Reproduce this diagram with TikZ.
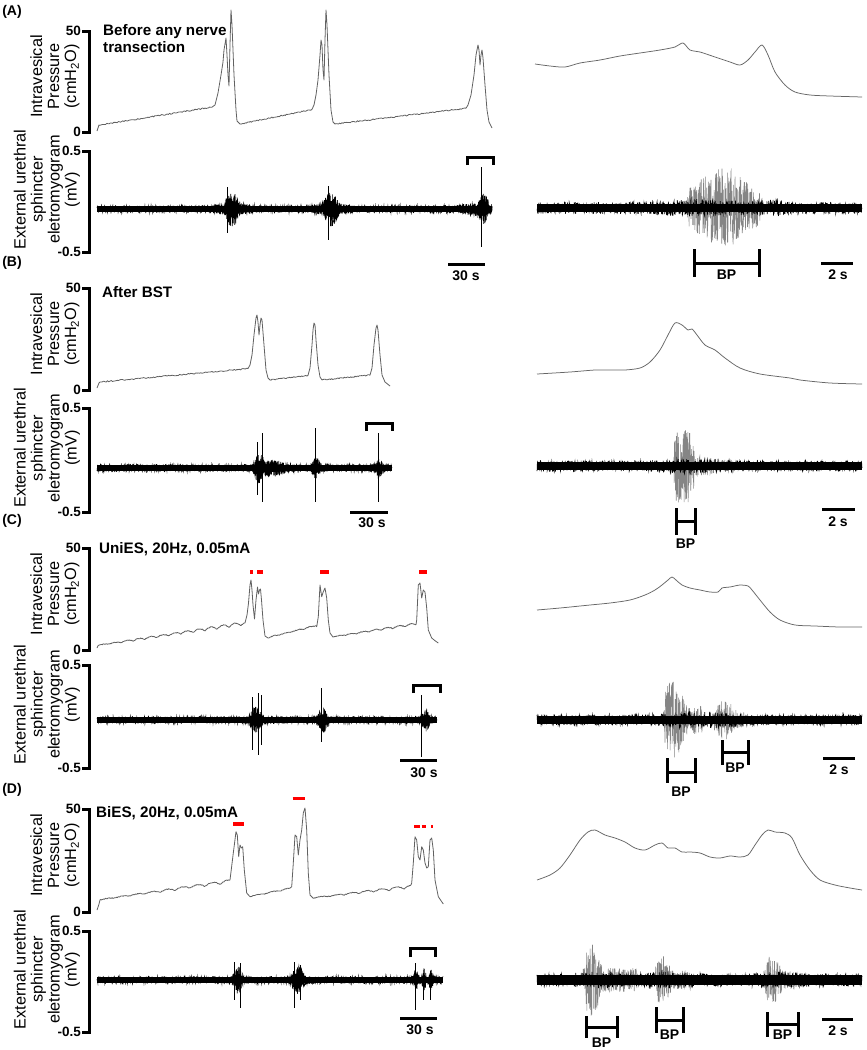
\documentclass[tikz,border=0pt]{standalone}
\usepackage{fontspec}
\setmainfont{Liberation Sans}
\tikzset{
  axisln/.style={line width=3pt, line join=miter},
  ticklbl/.style={anchor=east, font=\fontsize{13.5}{15}\selectfont\bfseries, inner sep=0pt},
  ylbl/.style={rotate=90, align=center, font=\fontsize{16.3}{17}\selectfont, inner sep=0pt},
  panel/.style={font=\fontsize{14}{16}\selectfont\bfseries, inner sep=0pt},
  cond/.style={anchor=west, align=left, font=\fontsize{15.2}{17}\selectfont\bfseries, inner sep=0pt},
  sclbl/.style={font=\fontsize{14}{16}\selectfont\bfseries, inner sep=0pt},
  ptrace/.style={draw=black!62, line width=0.8pt, line join=round},
  rtrace/.style={draw=black!60, line width=0.75pt, line join=round},
  emgln/.style={draw=black, line width=0.6pt},
  burstln/.style={draw=black!48, line width=0.55pt},
  spk/.style={draw=black, line width=0.9pt},
  redmk/.style={draw=red, line width=3.5pt},
  barln/.style={line width=3pt, line join=miter}
}
\newcommand\axset[6]{%
  \draw[axisln] ({#2-7},#3) -- (#2,#3) -- (#2,#4) -- ({#2-7},#4);
  \draw[axisln] ({#2-7},#5) -- (#2,#5) -- (#2,#6) -- ({#2-7},#6);
  \node[ticklbl] (#1pt) at ({#2-8},#3) {50};
  \node[ticklbl] (#1pb) at ({#2-8},#4) {0};
  \node[ticklbl] (#1et) at ({#2-8},#5) {0.5};
  \node[ticklbl] (#1eb) at ({#2-8},#6) {-0.5};
  \node[ylbl] (#1pl) at (55,{(#3+#4)/2-5}) {Intravesical\\Pressure\\(cmH\textsubscript{2}O)};
  \node[ylbl] (#1el) at (47,{(#5+#6)/2-12}) {External urethral\\sphincter\\eletromyogram\\(mV)};
}
% top bracket: name, x1, x2, ytop, yend
\newcommand\topbr[5]{%
  \draw[barln] (#2,#5) -- (#2,#4) -- (#3,#4) -- (#3,#5);
  \coordinate (#1) at ({(#2+#3)/2},#4);
}
% BP bracket: name, x1, x2, vtop, vbot, yh, text y
\newcommand\bpbr[7]{%
  \draw[barln] (#2,#4) -- (#2,#5) (#2,#6) -- (#3,#6) (#3,#4) -- (#3,#5);
  \node[sclbl] (#1) at ({(#2+#3)/2},#7) {BP};
}
% scale bar: name, x1, x2, y, text, text x, text y
\newcommand\scbar[7]{%
  \draw[barln] (#2,#4) -- (#3,#4);
  \node[sclbl] (#1) at (#6,#7) {#5};
}
% EMG trace: x0, x1, baseline, core half width, envelope function, line samples
\newcommand\emgtrace[6]{%
  \fill[black] (#1,{#3-#4}) rectangle (#2,{#3+#4});
  \draw[emgln] plot[domain=#1:#2,samples=#6] (\x,{#3+#5(\x)*rand});
}
% dense burst noise with dark core: x0, x1, baseline, envelope, samples
\newcommand\emgb[5]{%
  \fill[black] plot[domain=#1:#2,samples=60] (\x,{#3-0.45*#4(\x)}) -- plot[domain=#2:#1,samples=60] (\x,{#3+0.45*#4(\x)}) -- cycle;
  \draw[emgln] plot[domain=#1:#2,samples=#5] (\x,{#3+#4(\x)*rand});
}
\begin{document}
\begin{tikzpicture}[x=1pt,y=-1pt,
  declare function={
    bmp(\t,\c,\w)=(1-min(abs((\t-\c)/\w),1)^2)^2;
    trap(\t,\p,\q,\s)=min(1,max(0,(\t-\p)/\s))*min(1,max(0,(\q-\t)/\s));
    eAL(\t)=3.8+2*bmp(\t,232,30)+12*bmp(\t,232,10)+2*bmp(\t,330,30)+12*bmp(\t,331,10)+3*bmp(\t,478,22)+9*bmp(\t,484,7);
    eAR(\t)=6+3*bmp(\t,700,70)+3*bmp(\t,775,30);
    eBL(\t)=3.8+10*bmp(\t,259,7)+5*bmp(\t,272,20)+7*bmp(\t,316,6)+5*bmp(\t,379,6);
    eBR(\t)=5.5+2*bmp(\t,690,50);
    eCL(\t)=3.8+10*bmp(\t,256,9)+9*bmp(\t,323,7)+8*bmp(\t,426,6);
    eCR(\t)=5.5+3*bmp(\t,700,60);
    eDL(\t)=3.8+10*bmp(\t,238,7)+11*bmp(\t,298,9)+8*bmp(\t,416,4)+8*bmp(\t,424,3)+7*bmp(\t,431,3);
    eDR(\t)=6.5+2*bmp(\t,600,40)+2*bmp(\t,668,30)+2*bmp(\t,780,30);
  }]
\fill[white] (0,0) rectangle (867,1050);
\useasboundingbox (0,0) rectangle (867,1050);
\pgfmathsetseed{4242}

% ================= Panel A =================
\node[panel] (lA) at (12,12) {(A)};
\axset{A}{89}{31}{132}{151}{252}
\node[cond] (cA) at (103,38.5) {Before any nerve\\transection};
\draw[ptrace] (97,131) -- (99,125)
  -- plot[domain=100:213,samples=100] (\x,{125-(\x-100)*0.16+0.6*rand})
  -- plot coordinates {(215,105) (218,93) (221,75) (223,62) (224,50) (226,38) (227,55) (228,75) (229,86) (230,45) (231,10) (232,25) (234,75) (236,110) (237,121) (240,124)}
  -- plot[domain=241:312,samples=70] (\x,{124-(\x-240)*0.2+0.6*rand})
  -- plot coordinates {(314,105) (316,95) (318,80) (320,55) (321,40) (322,45) (323,70) (324,80) (325,40) (326,10) (327,25) (329,75) (331,110) (333,122) (335,124)}
  -- plot[domain=336:466,samples=110] (\x,{124-(\x-335)*0.12+0.6*rand})
  -- plot coordinates {(468,105) (471,95) (474,75) (476,55) (478,45) (479,50) (480,65) (481,55) (482,50) (483,58) (485,85) (487,110) (489,122) (492,128)};
\draw[rtrace] plot[smooth,tension=0.5] coordinates {(535,64) (550,66) (565,67) (580,63) (600,60) (620,56) (640,53) (660,50) (675,47) (683,43) (690,50) (700,52) (715,57) (730,62) (740,65) (748,60) (755,52) (762,45) (768,55) (775,72) (785,85) (795,92) (810,95) (830,96) (862,97)};
% EMG A
\emgtrace{97}{492}{209}{2.6}{eAL}{900}
\emgb{212}{255}{209}{eAL}{260}
\emgb{312}{352}{209}{eAL}{240}
\emgb{458}{492}{209}{eAL}{200}
\draw[spk] (227,187) -- (227,233) (328,186) -- (328,240) (481,167) -- (481,247);
\topbr{brA}{467}{493}{157}{165}
\scbar{sA}{448}{485}{264}{30 s}{466}{276}
\draw[burstln] plot[domain=686:762,samples=320] (\x,{208+(20*trap(\x,686,762,3)+20*bmp(\x,722,36))*rand});
\emgtrace{537}{862}{208}{4.4}{eAR}{900}
\bpbr{bpA}{694}{759}{249}{277}{263}{275}
\scbar{rsA}{821}{853}{263}{2 s}{838}{275}

% ================= Panel B =================
\node[panel] (lB) at (12,263) {(B)};
\axset{B}{89}{288}{390}{408}{512}
\node[cond] (cB) at (102,292) {After BST};
\draw[ptrace] (97,388) -- (99,383)
  -- plot[domain=100:248,samples=120] (\x,{382-(\x-100)*0.09+0.6*rand})
  -- plot coordinates {(250,365) (252,355) (254,335) (256,318) (257,315) (258,322) (259,335) (260,325) (261,318) (262,320) (264,345) (266,370) (268,378) (270,380)}
  -- plot[domain=271:308,samples=35] (\x,{380-(\x-270)*0.12+0.6*rand})
  -- plot coordinates {(310,368) (312,345) (313,330) (314,323) (315,325) (316,340) (318,365) (320,377) (322,380)}
  -- plot[domain=323:370,samples=45] (\x,{380-(\x-322)*0.1+0.6*rand})
  -- plot coordinates {(372,368) (374,345) (376,328) (377,325) (378,330) (380,355) (382,375) (385,382) (390,386)};
\draw[rtrace] plot[smooth,tension=0.5] coordinates {(537,374) (570,372) (595,370) (610,370) (625,370) (640,368) (650,362) (660,350) (668,335) (675,323) (682,325) (688,330) (692,329) (697,335) (705,345) (715,350) (725,358) (740,368) (760,374) (790,378) (800,380) (830,383) (862,384)};
% EMG B
\emgtrace{97}{392}{468}{2.6}{eBL}{680}
\emgb{248}{295}{468}{eBL}{280}
\emgb{306}{326}{468}{eBL}{120}
\emgb{370}{388}{468}{eBL}{100}
\draw[spk] (257,442) -- (257,495) (262,433) -- (262,502) (315,428) -- (315,502) (378,433) -- (378,502);
\topbr{brB}{366}{392}{423}{431}
\scbar{sB}{350}{388}{512}{30 s}{372}{523}
\draw[burstln] plot[domain=673:695,samples=110] (\x,{466+(37*trap(\x,673,695,2))*rand});
\draw[burstln] plot[domain=695:770,samples=220] (\x,{466+(10*bmp(\x,695,70))*rand});
\emgtrace{537}{862}{466}{4}{eBR}{900}
\bpbr{bpB}{676}{695}{508}{535}{521}{544}
\scbar{rsB}{822}{855}{509}{2 s}{838}{522}

% ================= Panel C =================
\node[panel] (lC) at (12,521) {(C)};
\axset{C}{89}{548}{650}{665}{768}
\node[cond] (cC) at (99,549) {UniES, 20Hz, 0.05mA};
\draw[redmk] (250,572) -- (252.7,572) (257,572) -- (263,572) (320,572) -- (329,572) (419,572) -- (427,572);
\draw[ptrace] (97,648)
  -- plot[domain=98:244,samples=200] (\x,{646-(\x-97)*0.14-(0.8+(\x-97)/50)*abs(sin((\x-97)*15))+0.4*rand})
  -- plot coordinates {(245,623) (247,615) (248.5,603) (250,585) (251,580) (252,590) (253,605) (254.5,619) (256,600) (257.5,587) (258.5,594) (259.5,590) (260.5,589) (261.5,600) (263,620) (265,636) (268,638)}
  -- plot[domain=269:316,samples=70] (\x,{638-(\x-268)*0.25-0.8*abs(sin((\x-268)*15))+0.4*rand})
  -- plot coordinates {(316.7,626.7) (318.3,616.7) (320,585) (321.7,596.7) (323.3,591.7) (325,588) (326.7,598) (328.3,620) (330,633) (333,637)}
  -- plot[domain=334:416,samples=110] (\x,{637-(\x-333)*0.14-(0.5+(\x-333)/40)*abs(sin((\x-333)*15))+0.4*rand})
  -- plot coordinates {(416.7,620) (418.3,585) (420,583) (421.7,598) (423.3,590) (425,592) (426.7,608) (428.3,630) (431.7,638) (435,640.7) (438.3,643)};
\draw[rtrace] plot[smooth,tension=0.5] coordinates {(537,610) (560,608) (590,605) (610,603) (630,600) (645,595) (655,590) (662,585) (668,580) (672,577) (676,580) (682,585) (690,588) (700,590) (710,592) (718,592) (722,588) (730,587) (740,585) (748,586) (752,590) (760,600) (770,612) (780,620) (795,625) (815,626) (840,627) (862,627)};
% EMG C
\emgtrace{97}{437}{720}{2.6}{eCL}{760}
\emgb{245}{268}{720}{eCL}{150}
\emgb{314}{332}{720}{eCL}{120}
\emgb{418}{434}{720}{eCL}{100}
\draw[spk] (252,697) -- (252,750) (258,693) -- (258,755) (261,695) -- (261,745) (321,688) -- (321,742) (421,695) -- (421,757);
\topbr{brC}{413}{440}{685}{693}
\scbar{sC}{400}{437}{760}{30 s}{424}{773}
\draw[burstln] plot[domain=663:705,samples=190] (\x,{720+(14*trap(\x,663,705,3)+26*bmp(\x,673,16))*rand});
\draw[burstln] plot[domain=710:750,samples=160] (\x,{720+(8*trap(\x,710,750,5)+12*bmp(\x,725,15))*rand});
\emgtrace{537}{862}{720}{4}{eCR}{900}
\bpbr{bpC1}{667}{695}{758}{783}{772}{792}
\bpbr{bpC2}{722}{748}{740}{765}{752}{768}
\scbar{rsC}{823}{855}{758}{2 s}{839}{770}

% ================= Panel D =================
\node[panel] (lD) at (12,790) {(D)};
\axset{D}{89}{809}{912}{931}{1032}
\node[cond] (cD) at (96,813) {BiES, 20Hz, 0.05mA};
\draw[redmk] (233.3,824) -- (244,824) (292.7,798.3) -- (305,798.3) (414.3,826.7) -- (420,826.7) (421.5,826.7) -- (426,826.7) (431,826.7) -- (433.3,826.7);
\draw[ptrace] (97,910) -- (99,904)
  -- plot[domain=100:229,samples=180] (\x,{900-(\x-100)*0.13-(0.5+(\x-100)/45)*abs(sin((\x-100)*12))+0.4*rand})
  -- plot coordinates {(230,880) (233.3,853) (236,831.7) (237.3,835) (238.7,856.7) (240,845) (241.3,848) (242.7,846.7) (244.3,870) (246.7,893) (250,896.7)}
  -- plot[domain=251:290,samples=55] (\x,{897-(\x-250)*0.2-1*abs(sin((\x-250)*12))+0.4*rand})
  -- plot coordinates {(291.7,886.7) (293.3,863) (295,835) (296.7,836.7) (298.3,855) (300,840) (301.7,830) (303.3,813) (305,808) (306.7,830) (308.3,873) (310,895) (313.3,898.3)}
  -- plot[domain=314:411,samples=130] (\x,{898-(\x-314)*0.1-(0.5+(\x-314)/35)*abs(sin((\x-314)*12))+0.4*rand})
  -- plot coordinates {(411.7,883) (413.3,863) (415,836.7) (416.7,840) (418.3,856.7) (420,860) (421.7,846.7) (423.3,850) (425,863) (426.7,868) (428.3,866.7) (430,840) (431.7,838) (433.3,850) (435,880) (438.3,896.7) (443.3,904)};
\draw[rtrace] plot[smooth,tension=0.5] coordinates {(537,880) (550,875) (560,868) (570,855) (580,840) (588,832) (595,830) (605,835) (615,838) (625,842) (635,848) (645,850) (655,845) (662,843) (668,848) (675,848) (682,852) (690,852) (700,853) (710,857) (720,858) (730,856) (740,857) (748,855) (755,845) (762,835) (768,830) (775,832) (785,833) (792,838) (800,855) (810,870) (820,880) (835,885) (850,888) (862,890)};
% EMG D
\emgtrace{97}{443}{980}{2.6}{eDL}{760}
\emgb{229}{248}{980}{eDL}{130}
\emgb{287}{310}{980}{eDL}{150}
\emgb{410}{438}{980}{eDL}{170}
\draw[spk] (234,962) -- (234,1000) (240,963) -- (240,1008) (294,962) -- (294,1008) (300,965) -- (300,1000) (415,963) -- (415,1010) (423,973) -- (423,1000) (430,972) -- (430,1000);
\topbr{brD}{410}{435}{948}{957}
\scbar{sD}{400}{437}{1018}{30 s}{420}{1030}
\draw[burstln] plot[domain=583:640,samples=240] (\x,{980+(12*trap(\x,583,640,4)+24*bmp(\x,591,14))*rand});
\draw[burstln] plot[domain=652:695,samples=180] (\x,{980+(9*trap(\x,652,695,4)+16*bmp(\x,662,12))*rand});
\draw[burstln] plot[domain=762:805,samples=180] (\x,{980+(9*trap(\x,762,805,4)+16*bmp(\x,772,12))*rand});
\emgtrace{537}{862}{980}{4.6}{eDR}{900}
\bpbr{bpD1}{586}{617}{1016}{1038}{1027}{1043}
\bpbr{bpD2}{656}{683}{1007}{1033}{1020}{1035}
\bpbr{bpD3}{767}{798}{1012}{1037}{1024}{1035}
\scbar{rsD}{822}{853}{1019}{2 s}{838}{1031}
\end{tikzpicture}
\end{document}
